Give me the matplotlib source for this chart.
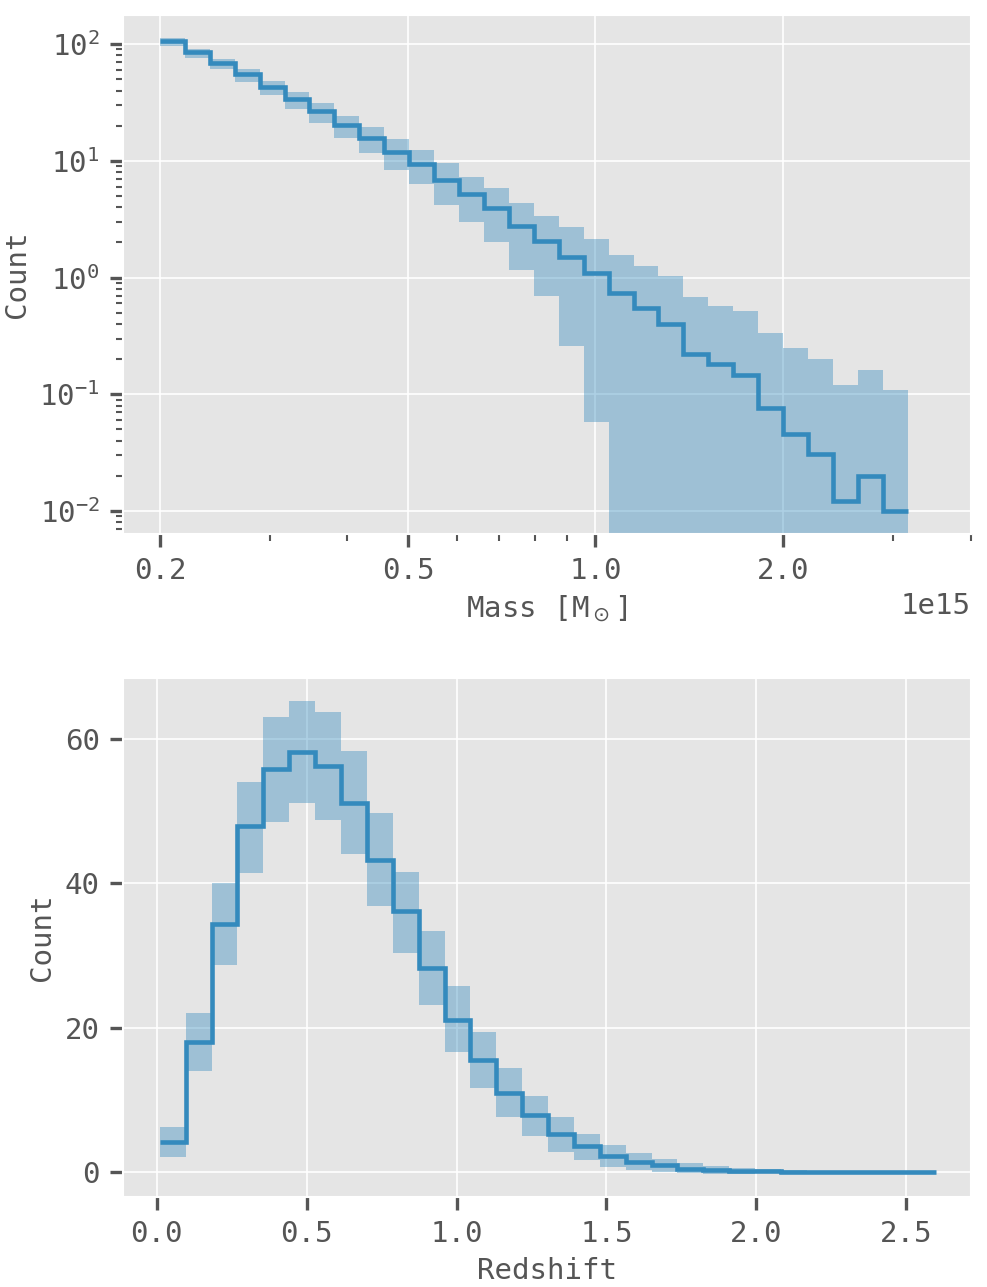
import matplotlib.pyplot as plt
import matplotlib.ticker as mticker
import numpy as np

plt.style.use('ggplot')
plt.rcParams['font.family'] = ['DejaVu Sans Mono', 'DejaVu Sans']
plt.rcParams['font.size'] = 14
plt.rcParams['axes.labelsize'] = 14
plt.rcParams['xtick.labelsize'] = 14
plt.rcParams['ytick.labelsize'] = 14

# mass histogram: 30 log-spaced bins
mass_min, mass_max, n_mass_bins = 2.0e14, 3.17e15, 30
mass_count = [105.5, 85.4, 68.3, 55.0, 43.0, 33.6, 26.5, 20.2, 15.8, 11.9,
              9.35, 6.9, 5.17, 3.98, 2.77, 2.07, 1.51, 1.10, 0.741, 0.551,
              0.403, 0.222, 0.180, 0.146, 0.0766, 0.0458, 0.0305, 0.0121, 0.0199, 0.0100]
mass_upper = [114, 90.6, 74.4, 61.0, 48.5, 38.9, 31.6, 24.2, 19.6, 15.3,
              12.4, 9.53, 7.22, 5.89, 4.38, 3.40, 2.70, 2.16, 1.55, 1.26,
              1.03, 0.681, 0.570, 0.517, 0.337, 0.250, 0.199, 0.119, 0.160, 0.108]
mass_lower = [96.7, 76.3, 61.0, 47.5, 36.7, 27.7, 21.2, 15.7, 11.6, 8.36,
              6.33, 4.20, 2.99, 2.03, 1.16, 0.69, 0.259, 0.058, 0, 0,
              0, 0, 0, 0, 0, 0, 0, 0, 0, 0]
mass_ticks = [2e14, 5e14, 1e15, 2e15]

# redshift histogram: 30 linear bins
z_min, z_max, n_z_bins = 0.01, 2.6, 30
z_count = [4.2, 18.06, 34.4, 47.9, 55.8, 58.2, 56.2, 51.1, 43.2, 36.1,
           28.3, 21.1, 15.5, 11.0, 7.85, 5.27, 3.56, 2.22, 1.43, 0.92,
           0.46, 0.28, 0.15, 0.10, 0.05, 0.03, 0.02, 0.01, 0.01, 0.01]
z_upper = [6.19, 22.0, 40.1, 54.1, 63.0, 65.3, 63.7, 58.3, 49.7, 41.6,
           33.4, 25.8, 19.4, 14.4, 10.5, 7.6, 5.31, 3.70, 2.59, 1.85,
           1.2, 0.9, 0.55, 0.4, 0.25, 0.15, 0.1, 0.06, 0.05, 0.04]
z_lower = [2.03, 14.04, 28.7, 41.4, 48.5, 51.1, 48.8, 44.0, 36.8, 30.4,
           23.1, 16.6, 11.7, 7.67, 4.99, 2.82, 1.66, 0.74, 0.28, -0.05,
           -0.2, -0.3, -0.25, -0.2, -0.15, -0.1, -0.06, -0.04, -0.03, -0.02]
z_ticks = [0.0, 0.5, 1.0, 1.5, 2.0, 2.5]
count_ticks = [0, 20, 40, 60]

color = '#348ABD'

fig = plt.figure(figsize=(6.58, 8.58), dpi=150)
ax1 = fig.add_axes([0.1246, 0.5851, 0.8592, 0.4033])
ax2 = fig.add_axes([0.1246, 0.0699, 0.8592, 0.4033])

# top panel: mass
mass_edges = np.geomspace(mass_min, mass_max, n_mass_bins + 1)
low = np.clip(mass_lower, 1e-4, None)
ax1.stairs(mass_upper, mass_edges, baseline=low, fill=True,
           color=color, alpha=0.4, lw=0)
ax1.stairs(mass_count, mass_edges, baseline=None, color=color, lw=2.2)
ax1.set_xscale('log')
ax1.set_yscale('log')
ax1.set_xlim(1.745e14, 4.005e15)
ax1.set_ylim(6.35e-3, 178)
ax1.set_xticks(mass_ticks)
ax1.xaxis.set_major_formatter(mticker.ScalarFormatter())
ax1.xaxis.set_minor_formatter(mticker.NullFormatter())
ax1.set_xlabel('Mass [M$_\\odot$]')
ax1.set_ylabel('Count')

# bottom panel: redshift
z_edges = np.linspace(z_min, z_max, n_z_bins + 1)
ax2.stairs(z_upper, z_edges, baseline=z_lower, fill=True,
           color=color, alpha=0.4, lw=0)
ax2.stairs(z_count, z_edges, baseline=None, color=color, lw=2.2)
ax2.set_xlim(-0.113, 2.716)
ax2.set_ylim(-3.47, 68.45)
ax2.set_xticks(z_ticks)
ax2.set_yticks(count_ticks)
ax2.set_xlabel('Redshift')
ax2.set_ylabel('Count')

for ax in (ax1, ax2):
    ax.tick_params(which='major', length=6.2, width=1.6, color='#555555', pad=5)
    ax.tick_params(which='minor', length=3.4, width=1.0, color='#555555')
    ax.grid(True, which='major', color='white', lw=0.8)
    ax.grid(False, which='minor')

fig.savefig('out.png', dpi=150)
